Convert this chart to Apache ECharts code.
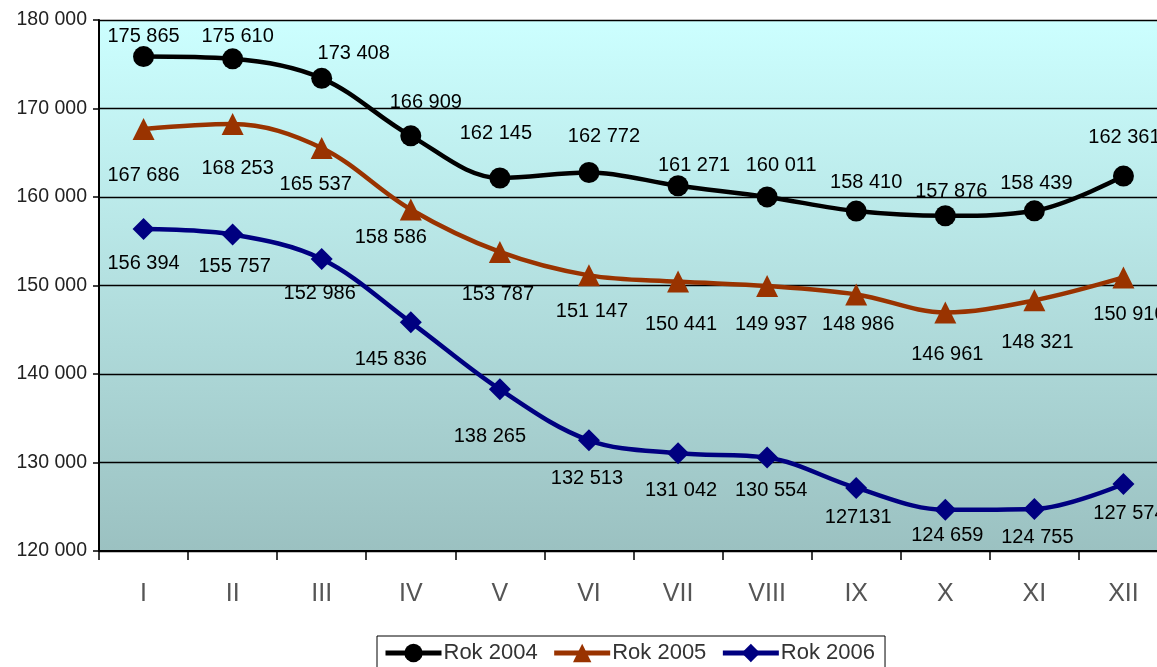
<!DOCTYPE html>
<html><head><meta charset="utf-8">
<script src="https://cdn.jsdelivr.net/npm/echarts@6/dist/echarts.min.js"></script>
<style>html,body{margin:0;padding:0;background:#fff}#c{width:1157px;height:667px}</style>
</head><body><div id="c"></div>
<script>
const categories = ['I','II','III','IV','V','VI','VII','VIII','IX','X','XI','XII'];
const rok2004 = [175865,175610,173408,166909,162145,162772,161271,160011,158410,157876,158439,162361];
const rok2005 = [167686,168253,165537,158586,153787,151147,150441,149937,148986,146961,148321,150910];
const rok2006 = [156394,155757,152986,145836,138265,132513,131042,130554,127131,124659,124755,127574];
const seriesNames = ['Rok 2004','Rok 2005','Rok 2006'];
const yTicks = {min:120000, max:180000, interval:10000};
// label text as printed where it differs from the standard format
const labelTextOverride = {'2-8':'127131'};

// style: per-point label nudges [dx, dy] (px)
const shift2004 = [[0,4],[5,2],[32,0],[15,-9],[-4,-20],[15,-11],[16,4],[14,-7],[10,-4],[6,0],[2,-3],[1,-14]];
const shift2005 = [[0,4],[5,2],[-6,-7],[-20,-15],[-2,-1],[3,-7],[3,0],[4,-5],[2,-13],[2,-1],[3,-1],[6,-6]];
const shift2006 = [[0,0],[2,-3],[-2,-1],[-20,2],[-10,12],[-2,3],[3,2],[4,-2],[2,-5],[2,-9],[3,-6],[6,-5]];

const fmt = v => { const s = String(v); return s.length > 3 ? s.slice(0, s.length-3) + ' ' + s.slice(-3) : s; };
const FONT = 'Liberation Sans, Arial, sans-serif';
const labelBase = {show:true, color:'#000', fontFamily:FONT, fontSize:20,
  formatter:p => labelTextOverride[p.seriesIndex+'-'+p.dataIndex] || fmt(p.value)};
const withShift = (vals, shifts) => vals.map((v,i) => ({value:v, label:{offset:shifts[i]}}));

const chart = echarts.init(document.getElementById('c'));
chart.setOption({
  animation:false,
  grid:{left:99, top:20, right:-11, bottom:116, outerBoundsMode:'none', containLabel:false,
    show:true, borderWidth:0,
    backgroundColor:new echarts.graphic.LinearGradient(0,0,0,1,[{offset:0,color:'#ccffff'},{offset:1,color:'#9bc1c1'}])},
  legend:{left:377, top:636, padding:[6,10,12,6], itemGap:14, itemWidth:56, itemHeight:23,
    borderColor:'#000', borderWidth:1, backgroundColor:'#fff',
    lineStyle:{width:5},
    textStyle:{fontFamily:FONT, fontSize:22, color:'#333', padding:[0,0,0,-3]},
    data:seriesNames},
  xAxis:{type:'category', data:categories, boundaryGap:true,
    axisLine:{lineStyle:{color:'#000', width:2}},
    axisTick:{show:true, length:9, lineStyle:{color:'#000', width:1.5}},
    axisLabel:{fontFamily:FONT, fontSize:25, color:'#555', margin:31},
    splitLine:{show:false}},
  yAxis:{type:'value', min:yTicks.min, max:yTicks.max, interval:yTicks.interval,
    axisLine:{show:true, lineStyle:{color:'#000', width:2}},
    axisTick:{show:true, length:6, lineStyle:{color:'#000', width:1.5}},
    axisLabel:{fontFamily:FONT, fontSize:19.5, color:'#222', margin:12, formatter:v=>fmt(v)},
    splitLine:{show:true, lineStyle:{color:'#000', width:1.3}}},
  series:[
    {name:seriesNames[0], type:'line', data:withShift(rok2004, shift2004), smooth:0.35, symbol:'circle', symbolSize:21,
      lineStyle:{color:'#000', width:4.5}, itemStyle:{color:'#000'},
      label:Object.assign({}, labelBase, {position:'top', distance:4}), z:5},
    {name:seriesNames[1], type:'line', data:withShift(rok2005, shift2005), smooth:0.35, symbol:'triangle', symbolSize:22,
      lineStyle:{color:'#993300', width:4.5}, itemStyle:{color:'#993300'},
      label:Object.assign({}, labelBase, {position:'bottom', distance:22}), z:4},
    {name:seriesNames[2], type:'line', data:withShift(rok2006, shift2006), smooth:0.35, symbol:'diamond', symbolSize:22,
      lineStyle:{color:'#000080', width:4.5}, itemStyle:{color:'#000080'},
      label:Object.assign({}, labelBase, {position:'bottom', distance:14}), z:3}
  ]
});
</script></body></html>
